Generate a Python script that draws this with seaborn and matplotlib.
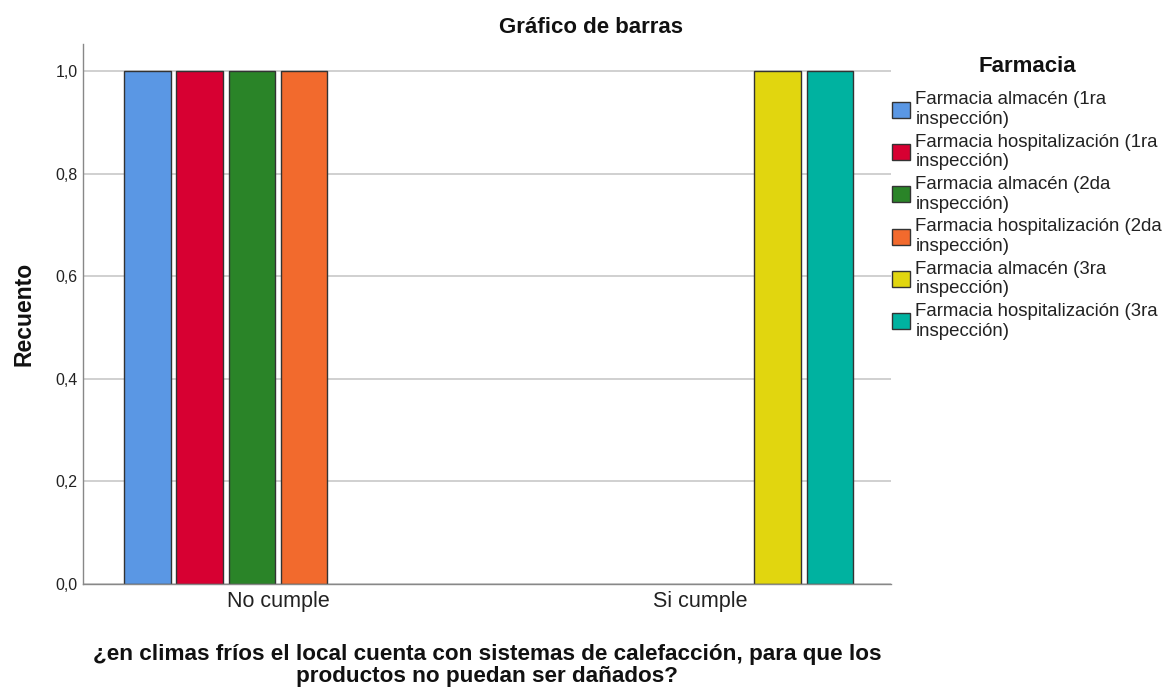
import numpy as np
import pandas as pd
import seaborn as sns
import matplotlib.pyplot as plt

# datos: recuento por categoría y farmacia
categorias = ["No cumple", "Si cumple"]
farmacias = [
    "Farmacia almacén (1ra\ninspección)",
    "Farmacia hospitalización (1ra\ninspección)",
    "Farmacia almacén (2da\ninspección)",
    "Farmacia hospitalización (2da\ninspección)",
    "Farmacia almacén (3ra\ninspección)",
    "Farmacia hospitalización (3ra\ninspección)",
]
grupo = ["No cumple", "No cumple", "No cumple", "No cumple", "Si cumple", "Si cumple"]
recuento = [1, 1, 1, 1, 1, 1]
colores = ["#5A97E4", "#D70032", "#2A8428", "#F26A2D", "#E1D60F", "#00B2A0"]

df = pd.DataFrame({"categoria": grupo, "farmacia": farmacias, "recuento": recuento})

sns.set_theme(style="white")
plt.rcParams["font.family"] = ["Liberation Sans", "DejaVu Sans"]

fig = plt.figure(figsize=(11.63, 6.87), dpi=100)
ax = fig.add_axes([0.0714, 0.150, 0.6947, 0.786])

sns.barplot(data=df, x="categoria", y="recuento", hue="farmacia", order=categorias,
            hue_order=farmacias, palette=colores, saturation=1, width=0.74, gap=0.1,
            edgecolor="#333333", linewidth=1, ax=ax, legend=True)

ax.set_xlim(-0.462, 1.453)
ax.set_ylim(0, 1.053)
ax.set_yticks([0, 0.2, 0.4, 0.6, 0.8, 1.0])
ax.set_yticklabels(["0,0", "0,2", "0,4", "0,6", "0,8", "1,0"], fontsize=11.5, color="#222222")
ax.tick_params(axis="x", labelsize=15.5, length=0, pad=5, colors="#222222")
ax.tick_params(axis="y", length=0, pad=4)
ax.yaxis.grid(True, color="#C8C8C8", linewidth=1.2)
ax.set_axisbelow(True)
for s in ["top", "right"]:
    ax.spines[s].set_visible(False)
for s in ["left", "bottom"]:
    ax.spines[s].set_color("#888888")
    ax.spines[s].set_linewidth(1)

ax.set_ylabel("Recuento", fontsize=16.5, fontweight="bold", labelpad=14, color="#111111")
ax.set_xlabel("¿en climas fríos el local cuenta con sistemas de calefacción, para que los\nproductos no puedan ser dañados?",
              fontsize=16.2, fontweight="bold", labelpad=23, linespacing=1.07, color="#111111")
fig.text(0.508, 0.96, "Gráfico de barras", ha="center", va="center", fontsize=16, fontweight="bold",
         color="#111111")

leg = ax.legend(loc="upper left", bbox_to_anchor=(0.767, 0.918), bbox_transform=fig.transFigure,
                frameon=False, title="Farmacia", fontsize=13.4, handlelength=0.95, handleheight=0.95,
                handletextpad=0.3, labelspacing=0.31, borderaxespad=0, borderpad=0)
leg.get_title().set_fontweight("bold")
leg.get_title().set_fontsize(16)
leg.get_title().set_color("#111111")
leg._legend_box.sep = 10
for t in leg.get_texts():
    t.set_linespacing(1.2)
    t.set_color("#222222")
for h in leg.legend_handles:
    h.set_edgecolor("#333333")

plt.savefig("out.png", dpi=100)
